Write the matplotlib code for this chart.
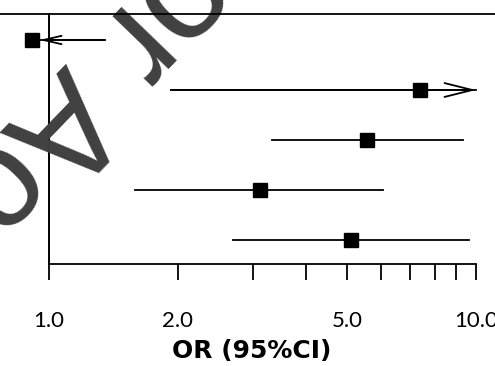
import numpy as np
import matplotlib
matplotlib.use("Agg")
import matplotlib.pyplot as plt
from matplotlib.lines import Line2D

# odds ratios with 95% CI, top row first
or_vals = [0.91, 7.40, 5.55, 3.12, 5.10]
ci_low = [0.95, 1.93, 3.33, 1.59, 2.70]
ci_high = [1.35, 10.0, 9.32, 6.06, 9.63]
arrow_left = [True, False, False, False, False]
arrow_right = [False, True, False, False, False]

tick_vals = [1, 2, 3, 4, 5, 6, 7, 8, 9, 10]
tick_labels = ['1.0', '2.0', '', '', '5.0', '', '', '', '', '10.0']

fig = plt.figure(figsize=(4.95, 3.66), dpi=100)
ax = fig.add_axes([49/495, 1-264/366, 427/495, 250/366])

# watermark fragment behind the plot
wm = dict(fontsize=104, color='#404040', family='Liberation Sans',
          rotation=-134, rotation_mode='anchor', va='baseline', zorder=0)
fig.text(0.133, 0.831, 'Accepted Manuscript', ha='left', **wm)
fig.text(0.133, 0.831, 'Author ', ha='right', **wm)

n = len(or_vals)
ys = np.arange(n, 0, -1)

for i in range(n):
    y = ys[i]
    ax.plot([ci_low[i], ci_high[i]], [y, y], color='black', lw=1.3,
            clip_on=False, zorder=3)
    ax.plot(or_vals[i], y, marker='s', ms=10, color='black',
            clip_on=False, zorder=4)
    if arrow_left[i]:
        ax.annotate('', xy=(ci_low[i], y), xytext=(ci_high[i], y),
                    arrowprops=dict(arrowstyle='->,head_length=1.3,head_width=0.3',
                                    lw=1.3, color='black', shrinkA=0, shrinkB=0),
                    annotation_clip=False, zorder=3)
    if arrow_right[i]:
        ax.annotate('', xy=(ci_high[i], y), xytext=(ci_low[i], y),
                    arrowprops=dict(arrowstyle='->,head_length=2.0,head_width=0.5',
                                    lw=1.3, color='black', shrinkA=0, shrinkB=0),
                    annotation_clip=False, zorder=3)

ax.set_xscale('log')
ax.set_xlim(1, 10)
ax.set_ylim(0.52, n + 0.52)
ax.set_xticks(tick_vals)
ax.set_xticklabels(tick_labels)
ax.xaxis.set_minor_locator(matplotlib.ticker.NullLocator())
ax.set_yticks([])
ax.tick_params(axis='x', direction='out', length=11.5, width=1.3, pad=22,
               labelsize=16)
for lab in ax.get_xticklabels():
    lab.set_family('Lato')

ax.spines['top'].set_visible(False)
ax.spines['right'].set_visible(False)
ax.spines['left'].set_linewidth(1.4)
ax.spines['bottom'].set_linewidth(1.3)
ax.patch.set_visible(False)

ax.set_xlabel('OR (95%CI)', fontsize=18, fontweight='bold', family='DejaVu Sans')
ax.xaxis.set_label_coords(0.475, -0.30)

# full-width rule at the top
fig.add_artist(Line2D([0, 1], [1-14/366, 1-14/366], color='black', lw=1.3,
                      transform=fig.transFigure))

fig.savefig('out.png', dpi=100)
